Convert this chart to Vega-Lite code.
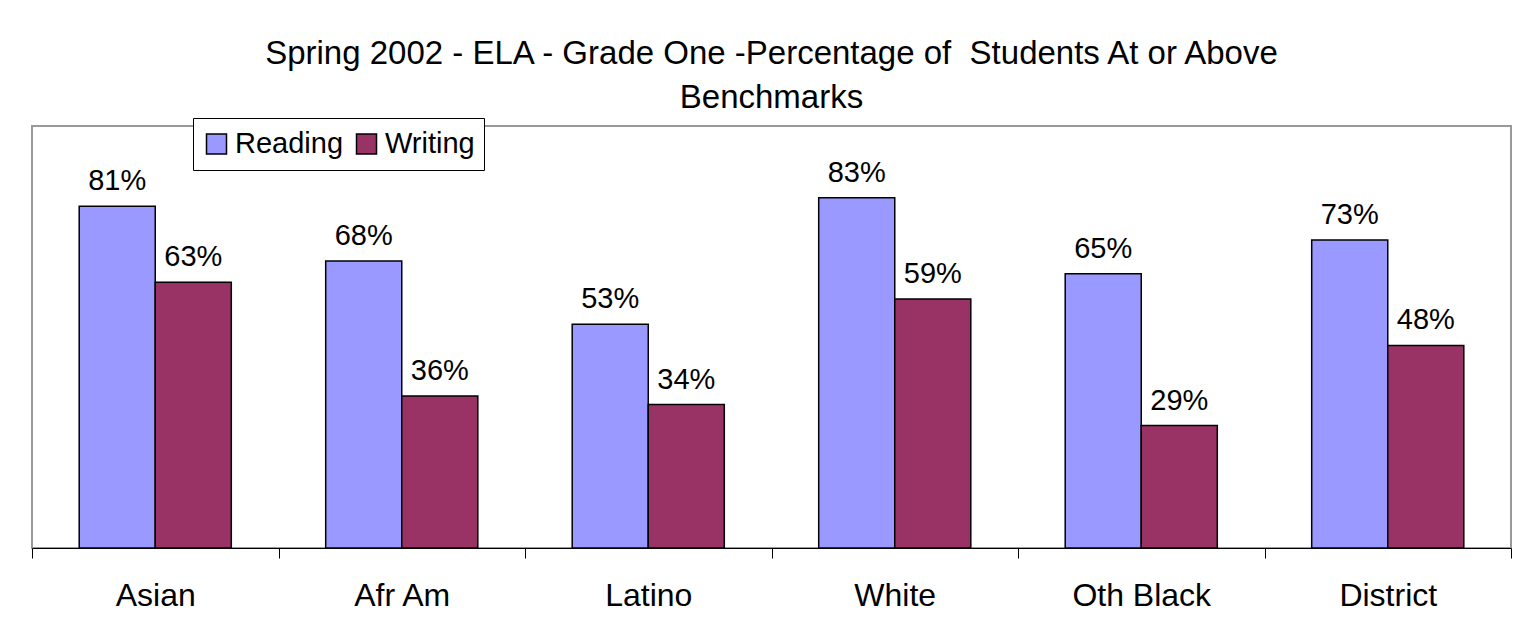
{
  "$schema": "https://vega.github.io/schema/vega-lite/v6.json",
  "autosize": {"type": "none"},
  "width": 1479,
  "height": 422,
  "padding": {"left": 32, "top": 126, "right": 5, "bottom": 94},
  "background": "white",
  "title": {
    "text": ["Spring 2002 - ELA - Grade One -Percentage of \u00a0Students At or Above", "Benchmarks"],
    "fontSize": 33,
    "fontWeight": "normal",
    "font": "Liberation Sans",
    "color": "black",
    "lineHeight": 44,
    "anchor": "middle",
    "frame": "group",
    "offset": 3
  },
  "data": {
    "values": [
      {"group": "Asian", "series": "Reading", "value": 81, "label": "81%"},
      {"group": "Asian", "series": "Writing", "value": 63, "label": "63%"},
      {"group": "Afr Am", "series": "Reading", "value": 68, "label": "68%"},
      {"group": "Afr Am", "series": "Writing", "value": 36, "label": "36%"},
      {"group": "Latino", "series": "Reading", "value": 53, "label": "53%"},
      {"group": "Latino", "series": "Writing", "value": 34, "label": "34%"},
      {"group": "White", "series": "Reading", "value": 83, "label": "83%"},
      {"group": "White", "series": "Writing", "value": 59, "label": "59%"},
      {"group": "Oth Black", "series": "Reading", "value": 65, "label": "65%"},
      {"group": "Oth Black", "series": "Writing", "value": 29, "label": "29%"},
      {"group": "District", "series": "Reading", "value": 73, "label": "73%"},
      {"group": "District", "series": "Writing", "value": 48, "label": "48%"}
    ]
  },
  "encoding": {
    "x": {
      "field": "group",
      "type": "nominal",
      "sort": null,
      "scale": {"paddingInner": 0, "paddingOuter": 0},
      "axis": {
        "title": null,
        "labelAngle": 0,
        "labelFontSize": 32,
        "labelFont": "Liberation Sans",
        "labelColor": "black",
        "labelPadding": 22,
        "tickSize": 10,
        "tickColor": "black",
        "tickWidth": 1,
        "tickBand": "extent",
        "domainColor": "black",
        "domainWidth": 1
      }
    },
    "xOffset": {
      "field": "series",
      "type": "nominal",
      "scale": {"paddingInner": 0, "paddingOuter": 0.6206}
    },
    "y": {
      "field": "value",
      "type": "quantitative",
      "scale": {"domain": [0, 100], "nice": false},
      "axis": null
    }
  },
  "layer": [
    {
      "mark": {"type": "bar", "stroke": "black", "strokeWidth": 1.5},
      "encoding": {
        "color": {
          "field": "series",
          "type": "nominal",
          "scale": {"domain": ["Reading", "Writing"], "range": ["#9999FF", "#993366"]},
          "legend": {
            "title": null,
            "orient": "none",
            "legendX": 161,
            "legendY": -8,
            "direction": "horizontal",
            "strokeColor": "black",
            "fillColor": "white",
            "padding": 9,
            "clipHeight": 34,
            "symbolType": "square",
            "symbolSize": 400,
            "symbolStrokeColor": "black",
            "symbolStrokeWidth": 1.5,
            "symbolOpacity": 1,
            "labelFontSize": 29,
            "labelFont": "Liberation Sans",
            "labelColor": "black",
            "labelOffset": 4,
            "columnPadding": 8
          }
        }
      }
    },
    {
      "mark": {"type": "text", "baseline": "alphabetic", "dy": -16, "fontSize": 29, "font": "Liberation Sans", "color": "black"},
      "encoding": {"text": {"field": "label"}}
    }
  ],
  "config": {
    "font": "Liberation Sans",
    "view": {"stroke": "#999999", "strokeWidth": 2}
  }
}
